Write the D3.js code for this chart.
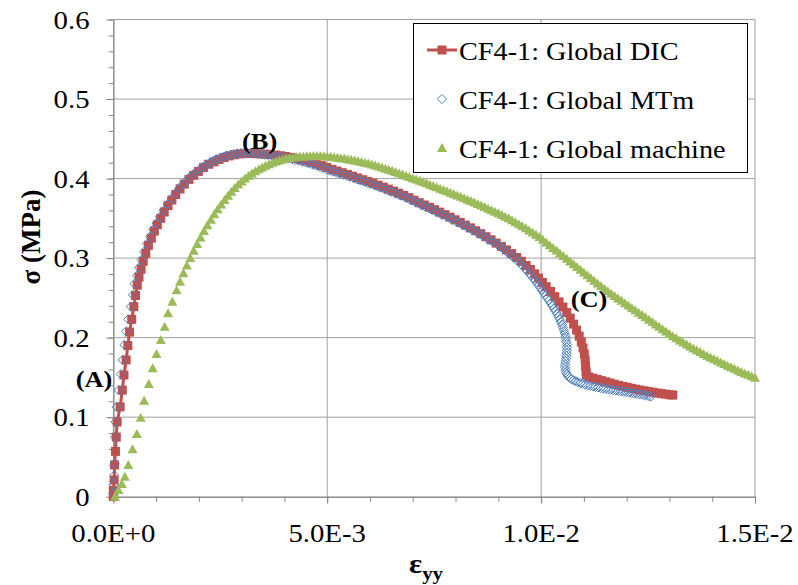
<!DOCTYPE html>
<html><head><meta charset="utf-8">
<script src="https://cdn.jsdelivr.net/npm/d3@7"></script>
<style>body{margin:0;background:#fff}</style>
</head><body><svg id="c" width="798" height="585"></svg>
<script>
// strain values are stored in units of 1e-3 (milli-strain); stress in MPa
const xTicks = [0, 5, 10, 15];
const xTickLabels = ["0.0E+0", "5.0E-3", "1.0E-2", "1.5E-2"];
const yTicks = [0, 0.1, 0.2, 0.3, 0.4, 0.5, 0.6];
const yTickLabels = ["0", "0.1", "0.2", "0.3", "0.4", "0.5", "0.6"];
const seriesNames = ["CF4-1: Global DIC", "CF4-1: Global MTm", "CF4-1: Global machine"];
const pointLabels = ["(A)", "(B)", "(C)"];

const dicPoints = [
[0.00,0.000],[0.00,0.008],[0.02,0.021],[0.03,0.040],[0.05,0.057],[0.07,0.075],[0.09,0.094],[0.16,0.113],
[0.21,0.134],[0.25,0.153],[0.30,0.172],[0.34,0.190],[0.38,0.207],[0.43,0.223],[0.48,0.239],[0.52,0.253],
[0.56,0.266],[0.60,0.276],[0.65,0.286],[0.70,0.296],[0.76,0.306],[0.82,0.316],[0.89,0.325],[0.96,0.334],
[1.03,0.342],[1.11,0.350],[1.19,0.358],[1.28,0.366],[1.37,0.373],[1.46,0.380],[1.56,0.387],[1.66,0.393],
[1.77,0.399],[1.88,0.404],[1.99,0.409],[2.11,0.414],[2.23,0.418],[2.35,0.421],[2.47,0.424],[2.59,0.4265],
[2.71,0.4285],[2.83,0.430],[2.95,0.431],[3.07,0.4315],[3.19,0.4315],[3.31,0.4314],[3.43,0.4312],[3.55,0.4308],
[3.67,0.4303],[3.79,0.4296],[3.91,0.4287],[4.03,0.4277],[4.15,0.4265],[4.27,0.4252],[4.39,0.4237],[4.51,0.4221],
[4.63,0.4203],[4.75,0.4184],[4.87,0.4163],[4.99,0.4140],[5.11,0.4115],[5.23,0.4095],[5.35,0.4074],[5.47,0.4052],
[5.59,0.4030],[5.71,0.4008],[5.83,0.3986],[5.95,0.3963],[6.07,0.3940],[6.19,0.3916],[6.31,0.3892],[6.43,0.3867],
[6.55,0.3842],[6.67,0.3815],[6.79,0.3788],[6.91,0.3760],[7.03,0.3728],[7.15,0.3697],[7.27,0.3668],[7.39,0.3639],
[7.51,0.3609],[7.63,0.3578],[7.75,0.3547],[7.87,0.3515],[7.99,0.3482],[8.11,0.3449],[8.23,0.3415],[8.35,0.3380],
[8.47,0.3344],[8.59,0.3307],[8.71,0.3269],[8.83,0.3230],[8.95,0.3189],[9.07,0.3147],[9.19,0.3103],[9.31,0.3057],
[9.43,0.3008],[9.54,0.2960],[9.65,0.2908],[9.75,0.2857],[9.85,0.2802],[9.94,0.2749],[10.03,0.2693],[10.12,0.2640],
[10.22,0.2580],[10.32,0.2515],[10.42,0.2450],[10.51,0.2385],[10.60,0.2315],[10.68,0.2245],[10.76,0.2170],[10.83,0.2095],
[10.89,0.2020],[10.94,0.1945],[10.98,0.1870],[11.01,0.1795],[11.03,0.1720],[11.04,0.1645],[11.05,0.1570],[11.06,0.1530],
[11.12,0.1505],[11.21,0.1490],[11.31,0.1475],[11.41,0.1460],[11.51,0.1445],[11.61,0.1430],[11.71,0.1415],[11.81,0.1400],
[11.91,0.1387],[12.01,0.1375],[12.11,0.1363],[12.21,0.1352],[12.31,0.1342],[12.41,0.1332],[12.51,0.1322],[12.61,0.1313],
[12.71,0.1304],[12.81,0.1296],[12.91,0.1289],[13.01,0.1282],[13.08,0.1278]
];

const mtmPoints = [
[0.00,0.004],[0.01,0.015],[0.02,0.027],[0.03,0.042],[0.04,0.075],[0.05,0.094],[0.08,0.113],[0.13,0.134],
[0.18,0.154],[0.22,0.172],[0.26,0.191],[0.30,0.208],[0.35,0.223],[0.41,0.239],[0.46,0.2536],[0.50,0.268],
[0.55,0.278],[0.60,0.288],[0.66,0.298],[0.72,0.308],[0.79,0.318],[0.86,0.327],[0.93,0.336],[1.01,0.344],
[1.09,0.352],[1.18,0.360],[1.27,0.368],[1.36,0.375],[1.46,0.3820],[1.54,0.3876],[1.62,0.3926],[1.70,0.3972],
[1.78,0.4015],[1.86,0.4051],[1.94,0.4085],[2.02,0.4117],[2.10,0.4147],[2.18,0.4175],[2.26,0.4201],[2.34,0.4224],
[2.42,0.4244],[2.50,0.4262],[2.58,0.4276],[2.66,0.4289],[2.74,0.4299],[2.82,0.4308],[2.90,0.4314],[2.98,0.4319],
[3.06,0.4321],[3.14,0.4322],[3.22,0.4322],[3.30,0.4320],[3.38,0.4310],[3.46,0.4303],[3.54,0.4299],[3.62,0.4295],
[3.70,0.4290],[3.78,0.4284],[3.86,0.4277],[3.94,0.4270],[4.02,0.4262],[4.10,0.4254],[4.18,0.4245],[4.26,0.4235],
[4.34,0.4225],[4.42,0.4213],[4.50,0.4202],[4.58,0.4190],[4.66,0.4176],[4.74,0.4163],[4.82,0.4148],[4.90,0.4133],
[4.98,0.4117],[5.06,0.4102],[5.14,0.4087],[5.22,0.4074],[5.30,0.4062],[5.38,0.4049],[5.46,0.4035],[5.54,0.4020],
[5.62,0.4006],[5.70,0.3991],[5.78,0.3976],[5.86,0.3962],[5.94,0.3946],[6.02,0.3931],[6.10,0.3916],[6.18,0.3900],
[6.26,0.3884],[6.34,0.3868],[6.42,0.3851],[6.50,0.3835],[6.58,0.3818],[6.66,0.3801],[6.74,0.3784],[6.82,0.3765],
[6.90,0.3746],[6.98,0.3727],[7.06,0.3706],[7.14,0.3685],[7.22,0.3665],[7.30,0.3645],[7.38,0.3626],[7.46,0.3606],
[7.54,0.3586],[7.62,0.3566],[7.70,0.3545],[7.78,0.3525],[7.86,0.3504],[7.94,0.3482],[8.02,0.3460],[8.10,0.3438],
[8.18,0.3416],[8.26,0.3394],[8.34,0.3371],[8.42,0.3347],[8.50,0.3323],[8.58,0.3299],[8.66,0.3274],[8.74,0.3249],
[8.82,0.3223],[8.90,0.3197],[8.98,0.3169],[9.06,0.3140],[9.13,0.3110],[9.20,0.3080],[9.25,0.3058],[9.31,0.3031],
[9.37,0.3004],[9.43,0.2977],[9.48,0.2950],[9.53,0.2923],[9.58,0.2895],[9.63,0.2866],[9.68,0.2836],[9.73,0.2807],
[9.77,0.2778],[9.82,0.2748],[9.86,0.2718],[9.90,0.2688],[9.94,0.2658],[9.98,0.2627],[10.02,0.2596],[10.06,0.2565],
[10.10,0.2533],[10.14,0.2500],[10.18,0.2468],[10.22,0.2435],[10.26,0.2402],[10.30,0.2369],[10.33,0.2336],[10.37,0.2302],
[10.40,0.2268],[10.43,0.2233],[10.46,0.2198],[10.49,0.2163],[10.51,0.2128],[10.53,0.2092],[10.55,0.2056],[10.57,0.2020],
[10.58,0.1984],[10.59,0.1948],[10.60,0.1912],[10.60,0.1876],[10.60,0.1840],[10.60,0.1805],[10.59,0.1770],[10.58,0.1735],
[10.57,0.1700],[10.56,0.1665],[10.56,0.1630],[10.57,0.1597],[10.58,0.1565],[10.60,0.1540],[10.63,0.1515],[10.67,0.1496],
[10.71,0.1478],[10.76,0.1464],[10.81,0.1450],[10.86,0.1439],[10.92,0.1428],[10.97,0.1419],[11.03,0.1410],[11.09,0.1402],
[11.15,0.1394],[11.21,0.1387],[11.27,0.1380],[11.33,0.1374],[11.39,0.1368],[11.45,0.1362],[11.51,0.1357],[11.57,0.1351],
[11.63,0.1346],[11.69,0.1341],[11.75,0.1336],[11.81,0.1331],[11.87,0.1326],[11.93,0.1321],[11.99,0.1316],[12.05,0.1311],
[12.11,0.1306],[12.17,0.1300],[12.23,0.1295],[12.29,0.1289],[12.35,0.1284],[12.41,0.1277],[12.47,0.1271],[12.52,0.1265],
[12.57,0.1260]
];

const machinePoints = [
[0.04,0.000],[0.12,0.0084],[0.20,0.016],[0.27,0.025],[0.35,0.040],[0.45,0.0596],[0.55,0.0788],[0.64,0.0994],
[0.72,0.1207],[0.83,0.1417],[0.92,0.1614],[1.01,0.1794],[1.11,0.197],[1.20,0.2138],[1.28,0.2306],[1.38,0.2452],
[1.48,0.2595],[1.56,0.2704],[1.64,0.2808],[1.72,0.2907],[1.80,0.3001],[1.88,0.3092],[1.96,0.3177],[2.04,0.3260],
[2.12,0.3340],[2.20,0.3413],[2.28,0.3483],[2.36,0.3551],[2.44,0.3615],[2.52,0.3675],[2.60,0.3731],[2.68,0.3785],
[2.76,0.3834],[2.84,0.3881],[2.92,0.3924],[3.00,0.3964],[3.08,0.4001],[3.16,0.4034],[3.24,0.4065],[3.32,0.4091],
[3.40,0.4116],[3.48,0.4139],[3.56,0.4160],[3.64,0.4180],[3.72,0.4198],[3.80,0.4215],[3.88,0.4228],[3.96,0.4241],
[4.04,0.4251],[4.12,0.4259],[4.20,0.4266],[4.28,0.4271],[4.36,0.4276],[4.44,0.4279],[4.52,0.4281],[4.60,0.4282],
[4.68,0.4283],[4.76,0.4283],[4.84,0.4282],[4.92,0.4280],[5.00,0.4277],[5.08,0.4273],[5.16,0.4268],[5.24,0.4263],
[5.32,0.4257],[5.40,0.4251],[5.48,0.4244],[5.56,0.4236],[5.64,0.4228],[5.72,0.4219],[5.80,0.4209],[5.88,0.4199],
[5.96,0.4188],[6.04,0.4176],[6.12,0.4164],[6.20,0.4152],[6.28,0.4139],[6.36,0.4125],[6.44,0.4111],[6.52,0.4097],
[6.60,0.4083],[6.68,0.4068],[6.76,0.4052],[6.84,0.4036],[6.92,0.4020],[7.00,0.4004],[7.08,0.3988],[7.16,0.3972],
[7.24,0.3956],[7.32,0.3940],[7.40,0.3923],[7.48,0.3906],[7.56,0.3890],[7.64,0.3873],[7.72,0.3857],[7.80,0.3840],
[7.88,0.3823],[7.96,0.3806],[8.04,0.3788],[8.12,0.3770],[8.20,0.3753],[8.28,0.3735],[8.36,0.3717],[8.44,0.3698],
[8.52,0.3679],[8.60,0.3661],[8.68,0.3642],[8.76,0.3622],[8.84,0.3603],[8.92,0.3583],[9.00,0.3563],[9.08,0.3542],
[9.16,0.3521],[9.24,0.3500],[9.32,0.3477],[9.40,0.3452],[9.48,0.3427],[9.56,0.3402],[9.64,0.3375],[9.72,0.3348],
[9.80,0.3321],[9.88,0.3293],[9.96,0.3264],[10.04,0.3231],[10.12,0.3197],[10.20,0.3162],[10.28,0.3128],[10.36,0.3094],
[10.44,0.3059],[10.52,0.3025],[10.60,0.2991],[10.68,0.2956],[10.76,0.2922],[10.84,0.2888],[10.92,0.2853],[11.00,0.2819],
[11.08,0.2785],[11.16,0.2751],[11.24,0.2716],[11.32,0.2682],[11.40,0.2648],[11.48,0.2614],[11.56,0.2582],[11.64,0.2552],
[11.72,0.2522],[11.80,0.2493],[11.88,0.2463],[11.96,0.2433],[12.04,0.2403],[12.12,0.2374],[12.20,0.2344],[12.28,0.2314],
[12.36,0.2285],[12.44,0.2255],[12.52,0.2225],[12.60,0.2195],[12.68,0.2166],[12.76,0.2136],[12.84,0.2106],[12.92,0.2077],
[13.00,0.2047],[13.08,0.2018],[13.16,0.1991],[13.24,0.1964],[13.32,0.1938],[13.40,0.1913],[13.48,0.1888],[13.56,0.1864],
[13.64,0.1841],[13.72,0.1818],[13.80,0.1795],[13.88,0.1773],[13.96,0.1751],[14.04,0.1730],[14.12,0.1709],[14.20,0.1688],
[14.28,0.1667],[14.36,0.1647],[14.44,0.1627],[14.52,0.1608],[14.60,0.1588],[14.68,0.1569],[14.76,0.1550],[14.84,0.1532],
[14.92,0.1513],[15.00,0.1495]
];

// label anchor positions in data units
const labelPositions = [[-0.45, 0.138], [3.42, 0.437], [11.12, 0.239]];

const colors = {dic: "#C0504D", mtm: "#4F81BD", machine: "#9BBB59"};
const FONT = "Liberation Serif";
const SX = 1.15; // horizontal text stretch seen in the reference

const svg = d3.select("#c");
const x = d3.scaleLinear().domain([0, 15]).range([113.3, 755]);
const y = d3.scaleLinear().domain([0, 0.6]).range([496.7, 19.5]);
const [x0, x1] = x.range();
const [y0, y1] = y.range();

const gridG = svg.append("g");
const axisG = svg.append("g");
const markG = svg.append("g");
const textG = svg.append("g");
const legG = svg.append("g");
const legTextG = svg.append("g");

function setFont(sel) {
  return sel.attr("font-family", FONT).style("font-family", "'Liberation Serif'", "important");
}

function stretchedText(parent, tx, ty, str, opts) {
  return setFont(parent.append("text"))
    .attr("transform", `translate(${tx},${ty}) scale(${opts.sx || SX},1)`)
    .attr("font-size", opts.size)
    .attr("font-weight", opts.weight || "normal")
    .attr("text-anchor", opts.anchor || "start").attr("fill", "#000")
    .text(str);
}

// gridlines
gridG.append("g").selectAll("line").data(yTicks.slice(1)).join("line")
  .attr("x1", x0).attr("x2", x1).attr("y1", d => y(d)).attr("y2", d => y(d))
  .attr("stroke", "#a0a0a0").attr("stroke-width", 1);
gridG.append("g").selectAll("line").data(xTicks.slice(1)).join("line")
  .attr("x1", d => x(d)).attr("x2", d => x(d)).attr("y1", y0).attr("y2", y1)
  .attr("stroke", "#a0a0a0").attr("stroke-width", 1);

// axes (minor + major ticks)
function styleAxis(g) {
  g.attr("font-family", null).attr("font-size", null);
  g.selectAll("path,line").attr("stroke", "#868686");
  g.selectAll("text").remove();
}
axisG.append("g").attr("transform", `translate(${x0},0)`)
  .call(d3.axisLeft(y).tickValues(d3.range(0, 31).map(i => i * 0.02)).tickSize(4.5).tickSizeOuter(0))
  .call(styleAxis);
axisG.append("g").attr("transform", `translate(${x0},0)`)
  .call(d3.axisLeft(y).tickValues(yTicks).tickSize(7).tickSizeOuter(0))
  .call(styleAxis);
axisG.append("g").attr("transform", `translate(0,${y0})`)
  .call(d3.axisBottom(x).tickValues(d3.range(0, 16)).tickSize(5).tickSizeOuter(0))
  .call(styleAxis);
axisG.append("g").attr("transform", `translate(0,${y0})`)
  .call(d3.axisBottom(x).tickValues(xTicks).tickSize(7).tickSizeOuter(0))
  .call(styleAxis);

// tick labels
yTicks.forEach((v, i) => stretchedText(textG, 89.5, y(v) + 9, yTickLabels[i], {size: 25, anchor: "end"}));
xTicks.forEach((v, i) => stretchedText(textG, x(v), 542, xTickLabels[i], {size: 25, anchor: "middle"}));

// axis titles
setFont(textG.append("text")).attr("transform", "translate(40,237) rotate(-90)")
  .attr("font-size", 27).attr("font-weight", "bold")
  .attr("text-anchor", "middle").text("σ (MPa)");
const xt = setFont(textG.append("text")).attr("transform", "translate(409,573) scale(1.1,1)")
  .attr("font-weight", "bold").attr("font-size", 28);
xt.append("tspan").text("ε");
xt.append("tspan").attr("font-size", 19).attr("dy", 7).text("yy");

// point labels
pointLabels.forEach((s, i) => stretchedText(textG, x(labelPositions[i][0]), y(labelPositions[i][1]), s,
  {size: 23, weight: "bold", anchor: "middle"}));

// series
const diamondPath = "M0,-4.6L4.6,0L0,4.6L-4.6,0Z";
const trianglePath = "M0,-5L5,4L-5,4Z";

markG.append("path").datum(dicPoints)
  .attr("d", d3.line().x(d => x(d[0])).y(d => y(d[1])))
  .attr("fill", "none").attr("stroke", colors.dic).attr("stroke-width", 3);
markG.append("g").selectAll("rect").data(dicPoints).join("rect")
  .attr("x", d => x(d[0]) - 4.5).attr("y", d => y(d[1]) - 4.5)
  .attr("width", 9).attr("height", 9).attr("fill", colors.dic);

markG.append("g").selectAll("path").data(mtmPoints).join("path")
  .attr("transform", d => `translate(${x(d[0])},${y(d[1])})`)
  .attr("d", diamondPath).attr("fill", "none").attr("stroke", colors.mtm).attr("stroke-width", 1);

markG.append("g").selectAll("path").data(machinePoints).join("path")
  .attr("transform", d => `translate(${x(d[0])},${y(d[1])})`)
  .attr("d", trianglePath).attr("fill", colors.machine);

// legend
const legY = [50, 99, 148];
legG.append("rect").attr("x", 413.5).attr("y", 23.5).attr("width", 334).attr("height", 149)
  .attr("fill", "#fff").attr("stroke", "#000").attr("stroke-width", 1);
legG.append("line").attr("x1", 427).attr("x2", 457).attr("y1", legY[0]).attr("y2", legY[0])
  .attr("stroke", colors.dic).attr("stroke-width", 3);
legG.append("rect").attr("x", 442 - 4.5).attr("y", legY[0] - 4.5).attr("width", 9).attr("height", 9).attr("fill", colors.dic);
legG.append("path").attr("transform", `translate(442,${legY[1]})`).attr("d", diamondPath)
  .attr("fill", "none").attr("stroke", colors.mtm);
legG.append("path").attr("transform", `translate(442,${legY[2]})`).attr("d", trianglePath)
  .attr("fill", colors.machine);
seriesNames.forEach((s, i) => stretchedText(legTextG, 459, legY[i] + 9.5, s, {size: 25, sx: 1.13}));
</script></body></html>
